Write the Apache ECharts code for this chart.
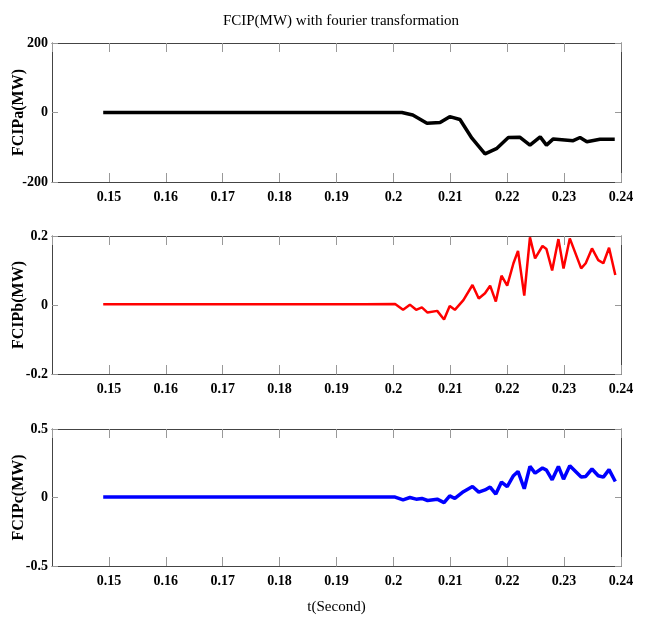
<!DOCTYPE html>
<html>
<head>
<meta charset="utf-8">
<script src="https://cdn.jsdelivr.net/npm/echarts@6/dist/echarts.min.js"></script>
<style>
html,body{margin:0;padding:0;background:#fff;}
#main{width:647px;height:619px;}
</style>
</head>
<body>
<div id="main"></div>
<script>
// ---- data ----
var titleText = "FCIP(MW) with fourier transformation";
var xAxisName = "t(Second)";
var panelNames = ["FCIPa(MW)", "FCIPb(MW)", "FCIPc(MW)"];
var xTicks = [0.14, 0.15, 0.16, 0.17, 0.18, 0.19, 0.2, 0.21, 0.22, 0.23, 0.24];
var yTicksA = [-200, 0, 200];
var yTicksB = [-0.2, 0, 0.2];
var yTicksC = [-0.5, 0, 0.5];

var timeA = [0.149, 0.155, 0.16, 0.165, 0.17, 0.175, 0.18, 0.185, 0.19, 0.195,
  0.1976, 0.2015, 0.2034, 0.2059, 0.2082, 0.2099, 0.2117, 0.2138, 0.2161, 0.2182,
  0.2202, 0.2222, 0.2240, 0.2258, 0.2269, 0.2281, 0.2316, 0.2328, 0.2340, 0.2363, 0.2389];
var fcipA = [0, 0, 0, 0, 0, 0, 0, 0, 0, 0,
  0, 0, -7, -31, -29, -12, -20, -74, -119, -103,
  -72, -71, -94, -70, -94, -76, -81, -72, -84, -77, -77];

var timeBC = [0.149, 0.155, 0.16, 0.165, 0.17, 0.175, 0.18, 0.185, 0.19, 0.195,
  0.2003, 0.2017, 0.2029, 0.2040, 0.2050, 0.2060, 0.2077, 0.2089, 0.2099, 0.2108,
  0.2123, 0.2139, 0.2150, 0.2161, 0.2170, 0.2180, 0.2190, 0.2200, 0.2211, 0.2219,
  0.2230, 0.2240, 0.2249, 0.2262, 0.2269, 0.2279, 0.2290, 0.2299, 0.2310, 0.2330,
  0.2338, 0.2349, 0.2360, 0.2369, 0.2379, 0.2390];
var fcipB = [0.002, 0.002, 0.002, 0.002, 0.002, 0.002, 0.002, 0.002, 0.002, 0.002,
  0.003, -0.014, 0.001, -0.014, -0.007, -0.022, -0.017, -0.042, -0.003, -0.014,
  0.014, 0.058, 0.019, 0.034, 0.056, 0.010, 0.085, 0.056, 0.121, 0.157,
  0.027, 0.196, 0.135, 0.171, 0.162, 0.100, 0.191, 0.106, 0.193, 0.106,
  0.121, 0.164, 0.130, 0.121, 0.166, 0.087];
var fcipC = [0.003, 0.003, 0.003, 0.003, 0.003, 0.003, 0.003, 0.003, 0.003, 0.003,
  0.003, -0.017, 0, -0.012, -0.007, -0.022, -0.012, -0.037, 0.012, -0.007,
  0.042, 0.080, 0.039, 0.055, 0.076, 0.025, 0.113, 0.080, 0.159, 0.190,
  0.064, 0.227, 0.178, 0.215, 0.200, 0.129, 0.227, 0.134, 0.232, 0.149,
  0.154, 0.208, 0.159, 0.149, 0.203, 0.117];

function zip(t, v) { return t.map(function (x, i) { return [x, v[i]]; }); }
function fmt(v) { return String(+(+v).toFixed(3)); }

var serif = "'Liberation Serif', 'DejaVu Serif', serif";
var frameColor = '#444';
var tickColor = '#999';

var grids = [
  {left: 52, right: 26, top: 43, height: 139, outerBoundsMode: 'none', containLabel: false},
  {left: 52, right: 26, top: 236, height: 138, outerBoundsMode: 'none', containLabel: false},
  {left: 52, right: 26, top: 429, height: 137, outerBoundsMode: 'none', containLabel: false}
];
var yTickSets = [yTicksA, yTicksB, yTicksC];

var xAxes = [], yAxes = [];
for (var i = 0; i < 3; i++) {
  xAxes.push({
    type: 'value', gridIndex: i, position: 'bottom',
    min: xTicks[0], max: xTicks[xTicks.length - 1], interval: 0.01,
    axisLine: {onZero: false, lineStyle: {color: frameColor, width: 1}},
    axisTick: {inside: true, length: 9, lineStyle: {color: tickColor}},
    axisLabel: {showMinLabel: false, formatter: fmt, color: '#000', fontFamily: serif, fontWeight: 'bold', fontSize: 14, margin: 8},
    splitLine: {show: false},
    name: i === 2 ? xAxisName : '', nameLocation: 'middle', nameGap: 34, nameMoveOverlap: false,
    nameTextStyle: {color: '#000', fontFamily: serif, fontSize: 15}
  });
}
for (var i = 0; i < 3; i++) {
  xAxes.push({
    type: 'value', gridIndex: i, position: 'top',
    min: xTicks[0], max: xTicks[xTicks.length - 1], interval: 0.01,
    axisLine: {onZero: false, lineStyle: {color: frameColor, width: 1}},
    axisTick: {inside: true, length: 9, lineStyle: {color: tickColor}},
    axisLabel: {show: false}, splitLine: {show: false}
  });
}
for (var i = 0; i < 3; i++) {
  var yt = yTickSets[i];
  yAxes.push({
    type: 'value', gridIndex: i, position: 'left',
    min: yt[0], max: yt[2], interval: yt[1] - yt[0],
    axisLine: {show: true, onZero: false, lineStyle: {color: frameColor, width: 1}},
    axisTick: {show: true, inside: true, length: 6, lineStyle: {color: tickColor}},
    axisLabel: {formatter: fmt, color: '#000', fontFamily: serif, fontWeight: 'bold', fontSize: 14, margin: 4},
    splitLine: {show: false},
    name: panelNames[i], nameLocation: 'middle', nameGap: 25, nameRotate: 90, nameMoveOverlap: false,
    nameTextStyle: {color: '#000', fontFamily: serif, fontWeight: 'bold', fontSize: 16}
  });
}
for (var i = 0; i < 3; i++) {
  var yt = yTickSets[i];
  yAxes.push({
    type: 'value', gridIndex: i, position: 'right',
    min: yt[0], max: yt[2], interval: yt[1] - yt[0],
    axisLine: {show: true, onZero: false, lineStyle: {color: frameColor, width: 1}},
    axisTick: {show: true, inside: true, length: 6, lineStyle: {color: tickColor}},
    axisLabel: {show: false}, splitLine: {show: false}
  });
}

var option = {
  animation: false,
  backgroundColor: '#fff',
  title: {
    text: titleText, left: 336, textAlign: 'center', top: 9,
    textStyle: {color: '#000', fontFamily: serif, fontWeight: 'normal', fontSize: 15}
  },
  grid: grids,
  xAxis: xAxes,
  yAxis: yAxes,
  series: [
    {type: 'line', xAxisIndex: 0, yAxisIndex: 0, data: zip(timeA, fcipA), showSymbol: false,
     lineStyle: {color: '#000', width: 3.5}, itemStyle: {color: '#000'}},
    {type: 'line', xAxisIndex: 1, yAxisIndex: 1, data: zip(timeBC, fcipB), showSymbol: false,
     lineStyle: {color: '#ff0000', width: 2.5}, itemStyle: {color: '#ff0000'}},
    {type: 'line', xAxisIndex: 2, yAxisIndex: 2, data: zip(timeBC, fcipC), showSymbol: false,
     lineStyle: {color: '#0000ff', width: 3.5}, itemStyle: {color: '#0000ff'}}
  ]
};
var chart = echarts.init(document.getElementById('main'), null, {renderer: 'canvas'});
chart.setOption(option);
</script>
</body>
</html>
